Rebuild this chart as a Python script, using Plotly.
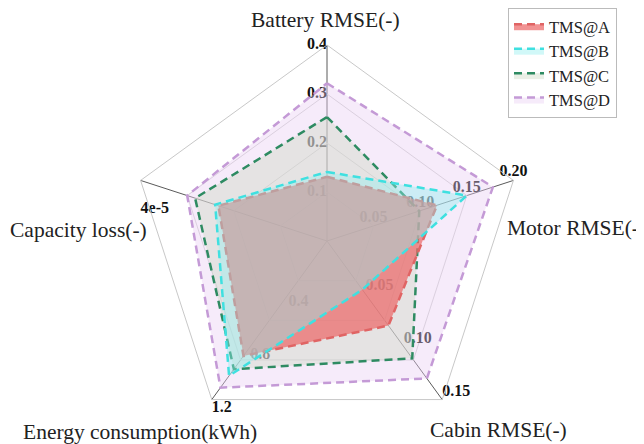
import plotly.graph_objects as go

# ---- data ----
axis_names = ["Battery RMSE(-)", "Motor RMSE(-)", "Cabin RMSE(-)",
              "Energy consumption(kWh)", "Capacity loss(-)"]
axis_max = [0.4, 0.20, 0.15, 1.2, 4e-5]

series_names = ["TMS@A", "TMS@B", "TMS@C", "TMS@D"]
tms_a = [0.131, 0.118, 0.080, 0.87, 2.33e-5]
tms_b = [0.141, 0.150, 0.046, 1.02, 2.40e-5]
tms_c = [0.253, 0.099, 0.111, 0.97, 2.83e-5]
tms_d = [0.322, 0.178, 0.130, 1.11, 3.00e-5]

battery_ticks = [0.0, 0.1, 0.2, 0.3, 0.4]
battery_labels = ["0.0", "0.1", "0.2", "0.3", "0.4"]
motor_ticks = [0.0, 0.05, 0.10, 0.15, 0.20]
motor_labels = ["0.00", "0.05", "0.10", "0.15", "0.20"]
cabin_ticks = [0.0, 0.05, 0.10, 0.15]
cabin_labels = ["0.0", "0.05", "0.10", "0.15"]
energy_ticks = [0.0, 0.4, 0.8, 1.2]
energy_labels = ["0.0", "0.4", "0.8", "1.2"]
capacity_ticks = [0.0, 4e-5]
capacity_labels = ["0.0", "4e-5"]

# ---- layout helpers (page has an 8px body margin) ----
OFF = 8
W, H = 644 - OFF, 444 - OFF


def px_x(x):
    return (x - OFF) / W


def px_y(y):
    return 1 - (y - OFF) / H


SERIF = "Liberation Serif, Times New Roman, serif"
fill_colors = {"TMS@A": "rgba(235,105,105,0.72)",
               "TMS@B": "rgba(145,238,238,0.42)",
               "TMS@C": "rgba(205,218,195,0.42)",
               "TMS@D": "rgba(232,204,242,0.40)"}
line_colors = {"TMS@A": "#E06464",
               "TMS@B": "#3FE0E0",
               "TMS@C": "#2E8B62",
               "TMS@D": "#C49AD6"}

fig = go.Figure()

# per-axis tick labels (drawn first so fills sit above them)
tick_sets = [
    (0, battery_ticks, battery_labels, "middle left", ""),
    (1, motor_ticks, motor_labels, "top center", ""),
    (2, cabin_ticks, cabin_labels, "top right", ""),
    (3, energy_ticks, energy_labels, "bottom right", ""),
    (4, capacity_ticks, capacity_labels, "bottom right", "<br>"),
]
for idx, ticks, labels, pos, prefix in tick_sets:
    fig.add_trace(go.Scatterpolar(
        r=[t / axis_max[idx] for t in ticks],
        theta=[axis_names[idx]] * len(ticks),
        mode="text", text=[prefix + s for s in labels], textposition=pos,
        textfont=dict(family=SERIF, size=16, color="#111", weight="bold"),
        showlegend=False, hoverinfo="skip", cliponaxis=False))

data = {"TMS@A": tms_a, "TMS@B": tms_b, "TMS@C": tms_c, "TMS@D": tms_d}
draw_order = ["TMS@D", "TMS@C", "TMS@A", "TMS@B"]
for name in draw_order:
    vals = data[name]
    r = [v / m for v, m in zip(vals, axis_max)]
    fig.add_trace(go.Scatterpolar(
        r=r + [r[0]], theta=axis_names + [axis_names[0]],
        mode="lines", fill="toself", name=name,
        fillcolor=fill_colors[name],
        line=dict(color=line_colors[name], width=2.5, dash="8px,5px"),
        legendrank=series_names.index(name) + 1))

fig.update_layout(
    width=W, height=H,
    margin=dict(l=0, r=0, t=0, b=0),
    paper_bgcolor="white",
    font=dict(family=SERIF, color="#222"),
    polar=dict(
        domain=dict(x=[px_x(131), px_x(523)], y=[px_y(437), px_y(45)]),
        gridshape="linear",
        bgcolor="white",
        radialaxis=dict(range=[0, 1], tickvals=[0.25, 0.5, 0.75],
                        showticklabels=False, ticks="", showline=False,
                        gridcolor="#D2D2D2", gridwidth=1),
        angularaxis=dict(type="category", categoryarray=axis_names,
                         direction="clockwise", rotation=90,
                         showticklabels=False, ticks="",
                         showline=True, linecolor="#C8C8C8", linewidth=1,
                         gridcolor="#5A5A5A", gridwidth=1),
    ),
    legend=dict(x=px_x(508), y=px_y(8), xanchor="left", yanchor="top",
                bgcolor="white", bordercolor="#BBBBBB", borderwidth=1,
                font=dict(family=SERIF, size=16.5, color="#222"),
                tracegroupgap=0),
    showlegend=True,
)

title_font = dict(family=SERIF, size=21.5, color="#222")
titles = [
    (axis_names[0], 325, 20, "center"),
    (axis_names[1], 505, 228, "left"),
    (axis_names[2], 498, 430, "center"),
    (axis_names[3], 140, 432, "center"),
    (axis_names[4], 78, 230, "center"),
]
for text, x, y, anchor in titles:
    fig.add_annotation(text=text, x=px_x(x), y=px_y(y),
                       xref="paper", yref="paper", xanchor=anchor,
                       yanchor="middle", showarrow=False, font=title_font)

fig.write_html("out.html")
